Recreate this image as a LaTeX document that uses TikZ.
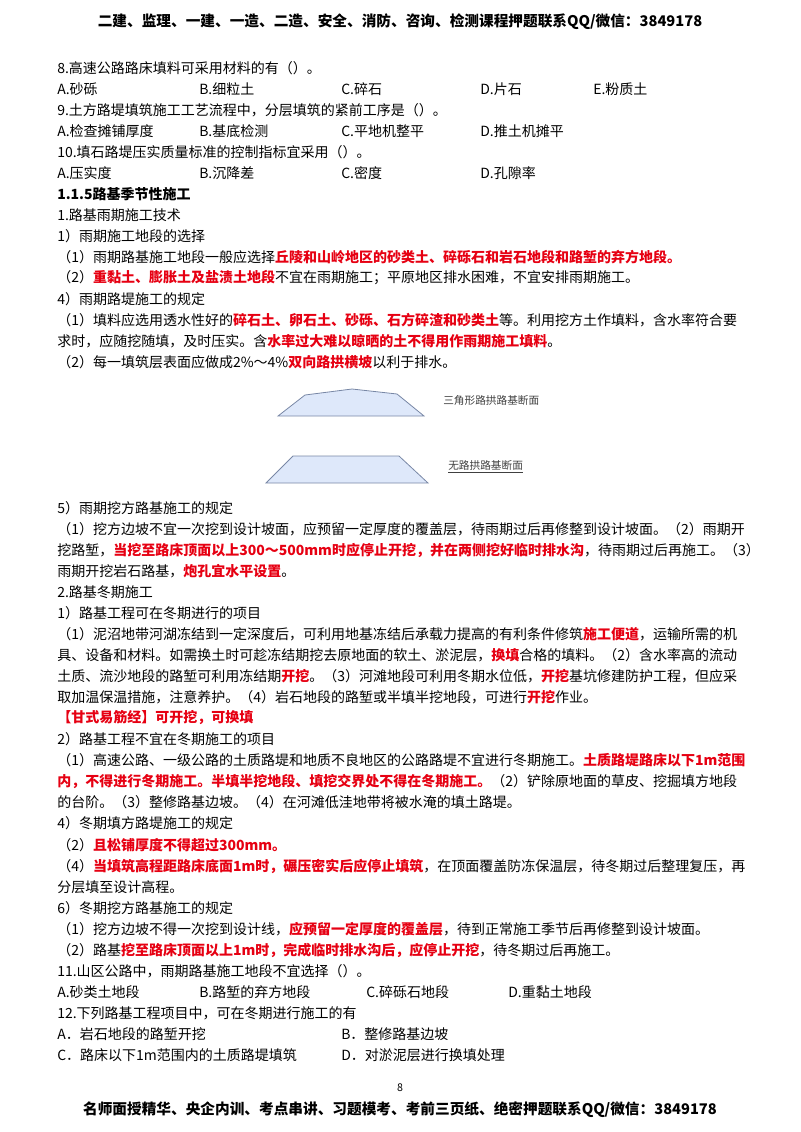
\documentclass[tikz,border=0pt]{standalone}
\usepackage{fontspec}
\setmainfont{Noto Sans CJK SC}
\XeTeXlinebreaklocale "zh"
\XeTeXlinebreakskip=0pt plus 2pt minus 0.5pt
\definecolor{hired}{RGB}{230,0,18}
\definecolor{secfill}{RGB}{222,232,250}
\definecolor{secline}{RGB}{120,135,165}
\newcommand{\hl}[1]{\textcolor{hired}{\bfseries #1}}
\newcommand{\fl}[1]{\hbox to 520pt{#1}}
\tikzset{
  txt/.style={anchor=west, inner sep=0pt, font=\fontsize{10.5}{12}\selectfont},
  head/.style={inner sep=0pt, font=\fontsize{11}{13}\selectfont\bfseries},
  sect/.style={draw=secline, fill=secfill, line width=0.6pt},
  seclabel/.style={anchor=west, inner sep=0pt, font=\fontsize{8}{10}\selectfont, text=black!75}
}
\begin{document}
\begin{tikzpicture}[x=0.75pt, y=-0.75pt]
  \useasboundingbox (0,0) rectangle (800,1132);
  \node[head] (top) at (400,22) {二建、监理、一建、一造、二造、安全、消防、咨询、检测课程押题联系QQ/微信：3849178};
  % questions 8--10
  \node[txt] (q8) at (57,68) {8.高速公路路床填料可采用材料的有（）。};
  \node[txt] (q8a) at (57,89) {A.砂砾};
  \node[txt] (q8b) at (199,89) {B.细粒土};
  \node[txt] (q8c) at (341,89) {C.碎石};
  \node[txt] (q8d) at (480,89) {D.片石};
  \node[txt] (q8e) at (593,89) {E.粉质土};
  \node[txt] (q9) at (57,110) {9.土方路堤填筑施工工艺流程中，分层填筑的紧前工序是（）。};
  \node[txt] (q9a) at (57,131) {A.检查摊铺厚度};
  \node[txt] (q9b) at (199,131) {B.基底检测};
  \node[txt] (q9c) at (341,131) {C.平地机整平};
  \node[txt] (q9d) at (480,131) {D.推土机摊平};
  \node[txt] (q10) at (57,152) {10.填石路堤压实质量标准的控制指标宜采用（）。};
  \node[txt] (q10a) at (57,173) {A.压实度};
  \node[txt] (q10b) at (199,173) {B.沉降差};
  \node[txt] (q10c) at (341,173) {C.密度};
  \node[txt] (q10d) at (480,173) {D.孔隙率};
  % rainy season
  \node[txt] (s115) at (57,194) {\bfseries 1.1.5路基季节性施工};
  \node[txt] (r1) at (57,215) {1.路基雨期施工技术};
  \node[txt] (r2) at (57,236) {1）雨期施工地段的选择};
  \node[txt] (r3) at (57,257) {（1）雨期路基施工地段一般应选择\hl{丘陵和山岭地区的砂类土、碎砾石和岩石地段和路堑的弃方地段。}};
  \node[txt] (r4) at (57,278) {（2）\hl{重黏土、膨胀土及盐渍土地段}不宜在雨期施工；平原地区排水困难，不宜安排雨期施工。};
  \node[txt] (r5) at (57,299) {4）雨期路堤施工的规定};
  \node[txt] (r6) at (57,320) {\fl{（1）填料应选用透水性好的\hl{碎石土、卵石土、砂砾、石方碎渣和砂类土}等。利用挖方土作填料，含水率符合要}};
  \node[txt] (r7) at (57,341) {求时，应随挖随填，及时压实。含\hl{水率过大难以晾晒的土不得用作雨期施工填料}。};
  \node[txt] (r8) at (57,362) {（2）每一填筑层表面应做成2\%～4\%\hl{双向路拱横坡}以利于排水。};
  % cross sections
  \draw[sect] (278,416) -- (305,395) -- (352,389) -- (397,394) -- (424,416) -- cycle;
  \node[seclabel] (c1) at (443,400) {三角形路拱路基断面};
  \draw[sect] (266,483) -- (293,456) -- (399,456) -- (428,483) -- cycle;
  \node[seclabel] (c2) at (448,467) {\underline{无路拱路基断面}};
  \node[txt] (r9) at (57,508) {5）雨期挖方路基施工的规定};
  \node[txt] (r10) at (57,529) {\fl{（1）挖方边坡不宜一次挖到设计坡面，应预留一定厚度的覆盖层，待雨期过后再修整到设计坡面。（2）雨期开}};
  \node[txt] (r11) at (57,550) {\fl{挖路堑，\hl{当挖至路床顶面以上300～500mm时应停止开挖，并在两侧挖好临时排水沟}，待雨期过后再施工。（3）}};
  \node[txt] (r12) at (57,571) {雨期开挖岩石路基，\hl{炮孔宜水平设置}。};
  % winter season
  \node[txt] (w1) at (57,592) {2.路基冬期施工};
  \node[txt] (w2) at (57,613) {1）路基工程可在冬期进行的项目};
  \node[txt] (w3) at (57,634) {\fl{（1）泥沼地带河湖冻结到一定深度后，可利用地基冻结后承载力提高的有利条件修筑\hl{施工便道}，运输所需的机}};
  \node[txt] (w4) at (57,655) {\fl{具、设备和材料。如需换土时可趁冻结期挖去原地面的软土、淤泥层，\hl{换填}合格的填料。（2）含水率高的流动}};
  \node[txt] (w5) at (57,676) {\fl{土质、流沙地段的路堑可利用冻结期\hl{开挖}。（3）河滩地段可利用冬期水位低，\hl{开挖}基坑修建防护工程，但应采}};
  \node[txt] (w6) at (57,697) {取加温保温措施，注意养护。（4）岩石地段的路堑或半填半挖地段，可进行\hl{开挖}作业。};
  \node[txt] (w7) at (57,718) {\hl{【甘式易筋经】可开挖，可换填}};
  \node[txt] (w8) at (57,739) {2）路基工程不宜在冬期施工的项目};
  \node[txt] (w9) at (57,760) {\fl{（1）高速公路、一级公路的土质路堤和地质不良地区的公路路堤不宜进行冬期施工。\hl{土质路堤路床以下1m范围}}};
  \node[txt] (w10) at (57,781) {\fl{\hl{内，不得进行冬期施工。半填半挖地段、填挖交界处不得在冬期施工。}（2）铲除原地面的草皮、挖掘填方地段}};
  \node[txt] (w11) at (57,802) {的台阶。（3）整修路基边坡。（4）在河滩低洼地带将被水淹的填土路堤。};
  \node[txt] (w12) at (57,823) {4）冬期填方路堤施工的规定};
  \node[txt] (w13) at (57,845) {（2）\hl{且松铺厚度不得超过300mm。}};
  \node[txt] (w14) at (57,866) {\fl{（4）\hl{当填筑高程距路床底面1m时，碾压密实后应停止填筑}，在顶面覆盖防冻保温层，待冬期过后整理复压，再}};
  \node[txt] (w15) at (57,887) {分层填至设计高程。};
  \node[txt] (w16) at (57,908) {6）冬期挖方路基施工的规定};
  \node[txt] (w17) at (57,929) {（1）挖方边坡不得一次挖到设计线，\hl{应预留一定厚度的覆盖层}，待到正常施工季节后再修整到设计坡面。};
  \node[txt] (w18) at (57,950) {（2）路基\hl{挖至路床顶面以上1m时，完成临时排水沟后，应停止开挖}，待冬期过后再施工。};
  % questions 11--12
  \node[txt] (q11) at (57,971) {11.山区公路中，雨期路基施工地段不宜选择（）。};
  \node[txt] (q11a) at (57,992) {A.砂类土地段};
  \node[txt] (q11b) at (199,992) {B.路堑的弃方地段};
  \node[txt] (q11c) at (366,992) {C.碎砾石地段};
  \node[txt] (q11d) at (508,992) {D.重黏土地段};
  \node[txt] (q12) at (57,1013) {12.下列路基工程项目中，可在冬期进行施工的有};
  \node[txt] (q12a) at (57,1034) {A．岩石地段的路堑开挖};
  \node[txt] (q12b) at (341,1034) {B．整修路基边坡};
  \node[txt] (q12c) at (57,1055) {C．路床以下1m范围内的土质路堤填筑};
  \node[txt] (q12d) at (341,1055) {D．对淤泥层进行换填处理};
  \node[inner sep=0pt, font=\fontsize{8}{10}\selectfont] (pg) at (400,1088) {8};
  \node[head] (bot) at (400,1110) {名师面授精华、央企内训、考点串讲、习题模考、考前三页纸、绝密押题联系QQ/微信：3849178};
\end{tikzpicture}
\end{document}
